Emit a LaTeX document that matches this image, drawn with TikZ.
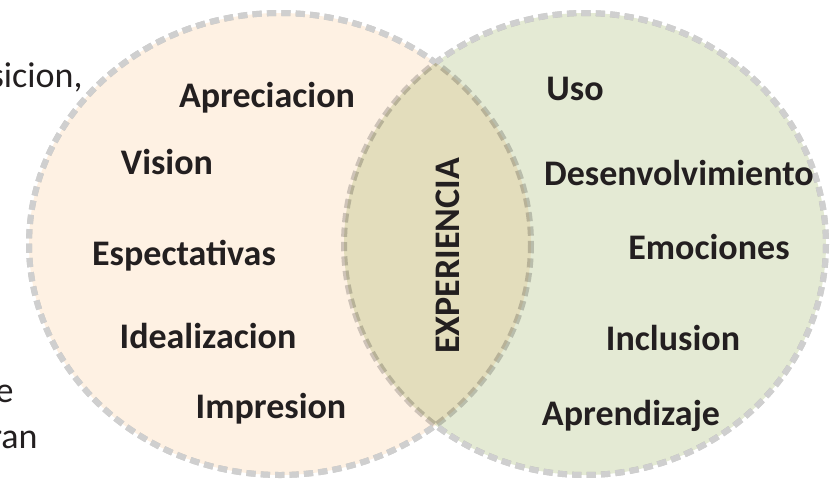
\documentclass[tikz,border=0pt]{standalone}
\usepackage{fontspec}
\setmainfont{Carlito}
\usepackage{tikz}
\usetikzlibrary{positioning}

\tikzset{
  etiqueta/.style={anchor=base, inner sep=0pt, text=textocolor,
    font=\fontsize{18}{20}\selectfont\bfseries},
  corrido/.style={anchor=base east, inner sep=0pt, text=textocolor,
    font=\fontsize{18}{20}\selectfont},
  borde/.style={draw=bordecolor, line width=3pt, dash pattern=on 4.6pt off 2.6pt}
}

\begin{document}
\begin{tikzpicture}[x=0.5pt, y=-0.5pt]

    % Farben
    \definecolor{izqcolor}{RGB}{254, 241, 227}
    \definecolor{dercolor}{RGB}{228, 234, 212}
    \definecolor{bordecolor}{RGB}{207, 207, 207}
    \definecolor{textocolor}{RGB}{35, 31, 32}

    \useasboundingbox (0, 0) rectangle (830, 483);

    % Mittelpunkte der Ellipsen
    \coordinate (L) at (280, 244);
    \coordinate (R) at (585, 244);

    % Umrisse zuerst (unter der Fuellung der anderen Ellipse)
    \draw[borde] (L) ellipse [x radius=251, y radius=231];
    \draw[borde] (R) ellipse [x radius=241, y radius=231];

    % Flaechen
    \begin{scope}[blend mode=multiply]
        \fill[izqcolor] (L) ellipse [x radius=251, y radius=231];
        \fill[dercolor] (R) ellipse [x radius=241, y radius=231];
    \end{scope}

    % Umrisse aussen nochmals, ausserhalb der jeweils anderen Ellipse
    \begin{scope}[even odd rule]
        \clip (-10, -10) rectangle (840, 493)
            (R) ellipse [x radius=241, y radius=231];
        \draw[borde] (L) ellipse [x radius=251, y radius=231];
    \end{scope}
    \begin{scope}[even odd rule]
        \clip (-10, -10) rectangle (840, 493)
            (L) ellipse [x radius=251, y radius=231];
        \draw[borde] (R) ellipse [x radius=241, y radius=231];
    \end{scope}

    % Text am linken Rand
    \node[corrido] (sicion) at (83, 87) {sicion,};
    \node[corrido] (e) at (14, 402) {e};
    \node[corrido] (ran) at (38, 448) {ran};

    % linke Ellipse
    \node[etiqueta] (apreciacion) at (267, 107) {Apreciacion};
    \node[etiqueta] (vision) at (167, 174) {Vision};
    \node[etiqueta] (espectativas) at (184, 265) {Espectativas};
    \node[etiqueta] (idealizacion) at (208, 348) {Idealizacion};
    \node[etiqueta] (impresion) at (271, 418) {Impresion};

    % Schnittmenge
    \node[etiqueta, rotate=90] (experiencia) at (459, 256) {EXPERIENCIA};

    % rechte Ellipse
    \node[etiqueta] (uso) at (575, 100) {Uso};
    \node[etiqueta] (desenvolvimiento) at (679, 185) {Desenvolvimiento};
    \node[etiqueta] (emociones) at (709, 259) {Emociones};
    \node[etiqueta] (inclusion) at (673, 350) {Inclusion};
    \node[etiqueta] (aprendizaje) at (631, 425) {Aprendizaje};

\end{tikzpicture}
\end{document}
